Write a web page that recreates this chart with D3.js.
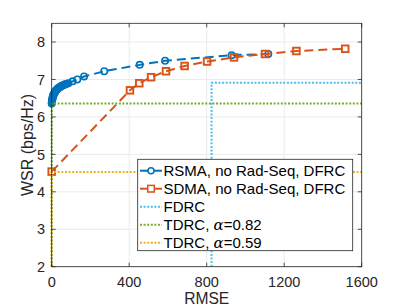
<!DOCTYPE html>
<html><head><meta charset="utf-8">
<script src="https://cdn.jsdelivr.net/npm/d3@7"></script>
<style>body{margin:0;background:#fff}svg{display:block}</style>
</head><body>
<script>
const rsmaX = [0,0.5,1,1.5,2,3,4,5,6,7,8,10,12,14,16,18,21,24,27,30,34,38,42,47,52,57,63,69,75,86,108,132,167,271,454,585,929,1118];
const rsmaY = [6.36,6.38,6.40,6.42,6.44,6.47,6.49,6.52,6.54,6.56,6.57,6.60,6.62,6.64,6.66,6.68,6.70,6.72,6.73,6.75,6.77,6.78,6.80,6.81,6.83,6.84,6.85,6.87,6.88,6.90,6.95,7.00,7.08,7.22,7.39,7.50,7.65,7.68];
const sdmaX = [0,404,452,513,590,686,802,941,1101,1263,1515];
const sdmaY = [4.54,6.71,6.90,7.06,7.22,7.36,7.48,7.59,7.68,7.76,7.82];
const fdrcX = [825,825,1600];
const fdrcY = [2,6.91,6.91];
const tdrc82X = [0,0,1600];
const tdrc82Y = [2,6.36,6.36];
const tdrc59X = [0,0,1600];
const tdrc59Y = [2,4.53,4.53];
const xTicks = [0,400,800,1200,1600];
const yTicks = [2,3,4,5,6,7,8];
const legendLabels = ["RSMA, no Rad-Seq, DFRC","SDMA, no Rad-Seq, DFRC","FDRC","TDRC, α=0.82","TDRC, α=0.59"];

const W=399,H=308;
const L=51.7,R=361.7,T=23.3,B=266.7;
const svg=d3.select("body").append("svg").attr("width",W).attr("height",H);
const x=d3.scaleLinear().domain([0,1600]).range([L,R]);
const y=d3.scaleLinear().domain([2,8.5]).range([B,T]);
const font="'Liberation Sans', Arial, Helvetica, sans-serif";
const axc="#262626";

const g=svg.append("g");
g.selectAll(".gx").data(xTicks).join("line").attr("x1",d=>x(d)).attr("x2",d=>x(d)).attr("y1",T).attr("y2",B).attr("stroke","#ebebeb").attr("stroke-width",1);
g.selectAll(".gy").data(yTicks).join("line").attr("x1",L).attr("x2",R).attr("y1",d=>y(d)).attr("y2",d=>y(d)).attr("stroke","#ebebeb").attr("stroke-width",1);

const line=d3.line().x(d=>x(d[0])).y(d=>y(d[1]));
const zip=(a,b)=>a.map((v,i)=>[v,b[i]]);
const blue="#0072BD",red="#D95319",cyan="#4DBEEE",green="#77AC30",yellow="#EDB120";
const pg=svg.append("g");

pg.append("path").attr("d",line(zip(rsmaX,rsmaY))).attr("fill","none").attr("stroke",blue).attr("stroke-width",2).attr("stroke-dasharray","9,5");
pg.selectAll(".cm").data(zip(rsmaX,rsmaY)).join("circle").attr("cx",d=>x(d[0])).attr("cy",d=>y(d[1])).attr("r",3.2).attr("fill","none").attr("stroke",blue).attr("stroke-width",1.6);
pg.append("path").attr("d",line(zip(sdmaX,sdmaY))).attr("fill","none").attr("stroke",red).attr("stroke-width",2).attr("stroke-dasharray","9,5");
pg.selectAll(".sm").data(zip(sdmaX,sdmaY)).join("rect").attr("x",d=>x(d[0])-3.3).attr("y",d=>y(d[1])-3.3).attr("width",6.6).attr("height",6.6).attr("fill","none").attr("stroke",red).attr("stroke-width",1.9);
pg.append("path").attr("d",line(zip(fdrcX,fdrcY))).attr("fill","none").attr("stroke",cyan).attr("stroke-width",2).attr("stroke-dasharray","2,1.6");
pg.append("path").attr("d",line(zip(tdrc82X,tdrc82Y))).attr("fill","none").attr("stroke",green).attr("stroke-width",2).attr("stroke-dasharray","2,1.6");
pg.append("path").attr("d",line(zip(tdrc59X,tdrc59Y))).attr("fill","none").attr("stroke",yellow).attr("stroke-width",2).attr("stroke-dasharray","2,1.6");

svg.append("rect").attr("x",L).attr("y",T).attr("width",R-L).attr("height",B-T).attr("fill","none").attr("stroke",axc).attr("stroke-width",0.8);
const tl=4;
xTicks.forEach(t=>{
  svg.append("line").attr("x1",x(t)).attr("x2",x(t)).attr("y1",B).attr("y2",B-tl).attr("stroke",axc).attr("stroke-width",0.8);
  svg.append("line").attr("x1",x(t)).attr("x2",x(t)).attr("y1",T).attr("y2",T+tl).attr("stroke",axc).attr("stroke-width",0.8);
  svg.append("text").attr("x",x(t)).attr("y",B+20).attr("text-anchor","middle").attr("font-family",font).attr("font-size",14.5).attr("fill",axc).text(t);
});
yTicks.forEach(t=>{
  svg.append("line").attr("x1",L).attr("x2",L+tl).attr("y1",y(t)).attr("y2",y(t)).attr("stroke",axc).attr("stroke-width",0.8);
  svg.append("line").attr("x1",R).attr("x2",R-tl).attr("y1",y(t)).attr("y2",y(t)).attr("stroke",axc).attr("stroke-width",0.8);
  svg.append("text").attr("x",L-6.5).attr("y",y(t)+5.2).attr("text-anchor","end").attr("font-family",font).attr("font-size",14.5).attr("fill",axc).text(t);
});
svg.append("text").attr("x",(L+R)/2).attr("y",304).attr("text-anchor","middle").attr("font-family",font).attr("font-size",15.6).attr("fill",axc).text("RMSE");
svg.append("text").attr("transform",`translate(33,${(T+B)/2}) rotate(-90)`).attr("text-anchor","middle").attr("font-family",font).attr("font-size",16).attr("fill",axc).text("WSR (bps/Hz)");

const lg=svg.append("g");
lg.append("rect").attr("x",137.7).attr("y",159.3).attr("width",215).attr("height",91.4).attr("fill","#fff").attr("stroke",axc).attr("stroke-width",0.8);
const styles=[
 {c:blue,dash:"none",m:"c"},{c:red,dash:"none",m:"s"},{c:cyan,dash:"2,1.6"},{c:green,dash:"2,1.6"},{c:yellow,dash:"2,1.6"}];
legendLabels.forEach((lab,i)=>{
  const cy=170.7+i*18;
  const s=styles[i];
  lg.append("line").attr("x1",140).attr("x2",162).attr("y1",cy).attr("y2",cy).attr("stroke",s.c).attr("stroke-width",2).attr("stroke-dasharray",s.dash);
  if(s.m==="c") lg.append("circle").attr("cx",151).attr("cy",cy).attr("r",3).attr("fill","#fff").attr("stroke",s.c).attr("stroke-width",1.5);
  if(s.m==="s") lg.append("rect").attr("x",151-3.3).attr("y",cy-3.3).attr("width",6.6).attr("height",6.6).attr("fill","#fff").attr("stroke",s.c).attr("stroke-width",1.5);
  const t=lg.append("text").attr("x",163.5).attr("y",cy+5.3).attr("font-family",font).attr("font-size",15).attr("fill","#000");
  const parts=lab.split("α");
  if(parts.length>1){
    t.append("tspan").text(parts[0]);
    t.append("tspan").attr("font-family","'DejaVu Serif', serif").attr("font-style","italic").text("α");
    t.append("tspan").text(parts[1]);
  } else t.text(lab);
});
</script>
</body></html>
